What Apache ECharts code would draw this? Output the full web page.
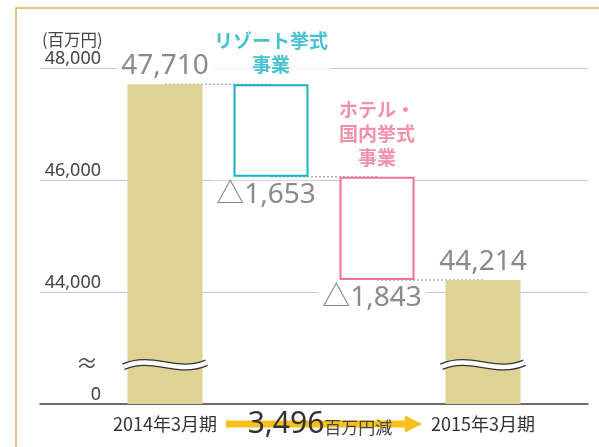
<!DOCTYPE html>
<html><head><meta charset="utf-8">
<script src="https://cdn.jsdelivr.net/npm/echarts/dist/echarts.min.js"></script>
<style>html,body{margin:0;padding:0;background:#fff}#c{width:599px;height:447px}</style>
</head><body><div id="c"></div><script>
// ---- data ----
const categories = ['2014年3月期', 'リゾート挙式\n事業', 'ホテル・\n国内挙式\n事業', '2015年3月期'];
const startValue = 47710;
const changes = [-1653, -1843];
const endValue = 44214;
const yTicks = [42000, 44000, 46000, 48000];
const yTickLabels = ['0', '44,000', '46,000', '48,000'];
const totalChange = 3496;
const breakValue = 42700;

// ---- style ----
const TAN = '#ded295', CYAN = '#17b2c4', PINK = '#ee7596', GRAY = '#8a8a8a';
const FONT = '"Noto Sans", "Noto Sans CJK JP", sans-serif';
const CJK = '"Noto Sans CJK JP", sans-serif';
const BW = 75;

const fmt = v => v.toLocaleString('en-US');
const levels = [startValue];
changes.forEach(c => levels.push(levels[levels.length - 1] + c));
const baseData = [0, levels[1], levels[2], 0];
const barVals = [startValue, -changes[0], -changes[1], endValue];
const boxColors = [null, CYAN, PINK, null];

const valueLabel = {
  show: true, color: GRAY, fontFamily: FONT, fontSize: 28, lineHeight: 28,
  backgroundColor: '#fff', padding: [0, 4]
};
const barData = barVals.map((v, i) => {
  const isBox = i === 1 || i === 2;
  return {
    value: v,
    itemStyle: isBox ? { color: '#fff', borderColor: boxColors[i], borderWidth: 2 } : { color: TAN },
    label: Object.assign({}, valueLabel, isBox
      ? { position: 'bottom', distance: 4, offset: [-5, 0], formatter: '△' + fmt(v) }
      : { position: 'top', distance: 4, formatter: fmt(v) })
  };
});

const connectors = [
  [[0, levels[0]], [1, levels[0]]],
  [[1, levels[1]], [2, levels[1]]],
  [[2, levels[2]], [3, levels[2]]]
];

const chart = echarts.init(document.getElementById('c'));
const option = {
  animation: false,
  backgroundColor: '#fff',
  grid: [
    { left: 40, right: 11, top: 68, bottom: 43, containLabel: false, outerBoundsMode: 'none' },
    { left: 112, right: 63, top: 68, bottom: 43, containLabel: false, outerBoundsMode: 'none' }
  ],
  xAxis: [
    { gridIndex: 0, type: 'value', min: 0, max: 1, axisLine: { show: true, lineStyle: { color: '#444', width: 1.5 } },
      axisTick: { show: false }, axisLabel: { show: false }, splitLine: { show: false } },
    { gridIndex: 1, type: 'category', data: categories, axisLine: { show: false }, axisTick: { show: false },
      axisLabel: { interval: 0, margin: 11, fontSize: 18, color: '#333', fontFamily: CJK,
        formatter: (v, i) => (i === 0 || i === categories.length - 1) ? v : '' },
      splitLine: { show: false } }
  ],
  yAxis: [
    { gridIndex: 0, type: 'value', min: yTicks[0], max: yTicks[yTicks.length - 1], interval: 2000,
      name: '(百万円)', nameLocation: 'end', nameGap: 28,
      nameTextStyle: { align: 'left', verticalAlign: 'middle', fontSize: 16.5, color: '#444', fontFamily: CJK, padding: [0, 0, 0, 2] },
      axisLine: { show: false }, axisTick: { show: false },
      axisLabel: { margin: -61, verticalAlign: 'bottom', fontSize: 18, color: '#444', fontFamily: FONT,
        padding: [0, 0, 0, 0],
        formatter: v => { const k = yTicks.indexOf(v); return k >= 0 ? yTickLabels[k] : ''; } },
      splitLine: { show: true, lineStyle: { color: '#c8c8c8', width: 1 } } },
    { gridIndex: 1, type: 'value', min: yTicks[0], max: yTicks[yTicks.length - 1], interval: 2000, show: false }
  ],
  series: [
    ...connectors.map(seg => ({
      type: 'line', xAxisIndex: 1, yAxisIndex: 1, data: seg, symbol: 'none', z: 1, silent: true,
      lineStyle: { color: '#888', width: 1, type: [2, 2] }
    })),
    { type: 'bar', xAxisIndex: 1, yAxisIndex: 1, stack: 'w', barWidth: BW, data: baseData, z: 2,
      itemStyle: { color: 'transparent' }, silent: true },
    { type: 'bar', xAxisIndex: 1, yAxisIndex: 1, stack: 'w', barWidth: BW, data: barData, z: 3 },
    { type: 'scatter', xAxisIndex: 1, yAxisIndex: 1, symbolSize: 0, z: 4,
      data: [
        { value: [1, levels[0]], label: { color: CYAN } },
        { value: [2, levels[1]], label: { color: PINK } }
      ],
      label: { show: true, position: 'top', distance: 7, fontSize: 19, fontWeight: 'bold', lineHeight: 24,
        fontFamily: CJK, align: 'center', backgroundColor: '#fff', padding: [0, 2],
        formatter: p => categories[p.value[0]] } },
    { type: 'custom', xAxisIndex: 1, yAxisIndex: 1, z: 5, silent: true,
      data: [[0, breakValue], [3, breakValue]],
      renderItem: (params, api) => {
        const p = api.coord([api.value(0), api.value(1)]);
        const w = BW + 8, x0 = p[0] - w / 2, y = p[1];
        const shape = { x1: x0, y1: y + 2, cpx1: x0 + w * 0.35, cpy1: y - 11, cpx2: x0 + w * 0.65, cpy2: y + 11, x2: x0 + w, y2: y - 2 };
        return { type: 'group', children: [
          { type: 'bezierCurve', shape, style: { stroke: '#333', lineWidth: 7, fill: null } },
          { type: 'bezierCurve', shape, style: { stroke: '#fff', lineWidth: 4.5, fill: null } }
        ] };
      } }
  ]
};
chart.setOption(option);

// decorations positioned through the axes
const axisY = chart.convertToPixel({ yAxisIndex: 0 }, yTicks[0]);
const breakY = chart.convertToPixel({ yAxisIndex: 0 }, breakValue);
const gridLeft = chart.convertToPixel({ xAxisIndex: 0 }, 0);
const x0 = chart.convertToPixel({ xAxisIndex: 1 }, 0);
const x3 = chart.convertToPixel({ xAxisIndex: 1 }, 3);
const aStart = x0 + 61, aTip = x3 - 61, aY = axisY + 20, head = 17;
chart.setOption({
  graphic: [
    { type: 'polyline', shape: { points: [[16, 447], [16, 8], [599, 8]] }, style: { stroke: '#d8ad57', lineWidth: 1.5, fill: null }, z: 0 },
    { type: 'text', x: gridLeft + 47, y: breakY, style: { text: '≈', fontSize: 22, fill: '#555', align: 'center', verticalAlign: 'middle', fontFamily: FONT } },
    { type: 'rect', shape: { x: aStart, y: aY - 3.5, width: aTip - head - aStart, height: 7 }, style: { fill: '#f8c01b' }, z: 10 },
    { type: 'polygon', shape: { points: [[aTip - head, aY - 8.5], [aTip, aY], [aTip - head, aY + 8.5]] }, style: { fill: '#f8c01b' }, z: 10 },
    { type: 'text', x: (aStart + aTip) / 2 - 4, y: aY, z: 11,
      style: { text: '{a|' + fmt(totalChange) + '}{b|百万円減}', align: 'center', verticalAlign: 'middle',
        rich: { a: { fontSize: 30, fill: '#333', fontFamily: FONT, verticalAlign: 'bottom' },
                b: { fontSize: 17, fill: '#444', fontFamily: CJK, verticalAlign: 'bottom', padding: [0, 0, 3, 0] } } } }
  ]
});
</script></body></html>
